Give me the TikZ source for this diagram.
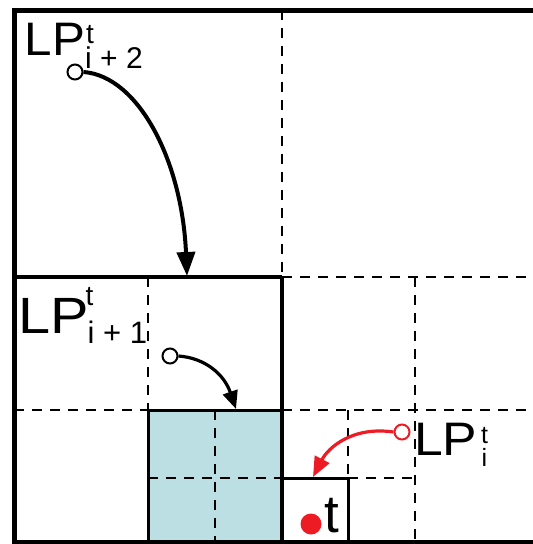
\documentclass[tikz,border=0pt]{standalone}
\usepackage{fontspec}
\setmainfont{Liberation Sans}
\usetikzlibrary{arrows.meta}
\definecolor{cellblue}{RGB}{188,223,227}
\definecolor{lpred}{RGB}{237,28,36}
\tikzset{
  outerline/.style={line width=5pt},
  midline/.style={line width=4pt},
  thinline/.style={line width=3pt},
  dashline/.style={line width=2.6pt, dash pattern=on 10pt off 8pt},
  lpcircle/.style={circle, draw, line width=2pt, fill=white, minimum size=15pt, inner sep=0pt},
  blackarrow/.style={line width=4pt, -{Triangle[length=24pt,width=18pt]}},
  smallarrow/.style={line width=3.2pt, -{Triangle[length=18pt,width=15pt]}},
  redarrow/.style={line width=3.2pt, draw=lpred, -{Triangle[length=20pt,width=16pt]}},
  lbl/.style={inner sep=0pt, anchor=base west},
}
\begin{document}
\begin{tikzpicture}[x=1pt,y=-1pt]
\useasboundingbox (0,0) rectangle (533,544);
% blue cell
\fill[cellblue] (148,410) rectangle (282,542);
% dashed grid
\draw[dashline] (282,10) -- (282,277);
\draw[dashline] (282,277) -- (533,277);
\draw[dashline] (148,277) -- (148,410);
\draw[dashline] (14,410) -- (148,410);
\draw[dashline] (282,410) -- (533,410);
\draw[dashline] (215,410) -- (215,542);
\draw[dashline] (148,478) -- (282,478);
\draw[dashline] (348,478) -- (415,478);
\draw[dashline] (348,410) -- (348,478);
\draw[dashline] (415,277) -- (415,542);
% solid lines
\draw[midline] (14,277) -- (282,277);
\draw[midline] (282,277) -- (282,542);
\draw[thinline] (148,542) -- (148,410) -- (282,410);
\draw[thinline] (282,478) -- (348,478) -- (348,542);
% outer frame
\draw[outerline] (533,10) -- (14,10) -- (14,542) -- (533,542);
% circles
\node[lpcircle] (c2) at (75,72) {};
\node[lpcircle] (c1) at (170,356) {};
\node[lpcircle, draw=lpred] (c0) at (402,432) {};
% arrow targets
\coordinate (t2) at (187,276);
\coordinate (t1) at (236,409);
\coordinate (t0) at (313,477);
\draw[blackarrow] (c2.east) .. controls (138,76) and (182,160) .. (t2);
\draw[smallarrow] (c1.east) .. controls (205,358) and (224,374) .. (t1);
\draw[redarrow] (c0.west) .. controls (352,426) and (328,448) .. (t0);
% labels
\node[lbl, font=\fontsize{47}{47}\selectfont] (lp2) at (24.5,55) {\scalebox{1.05}[1]{LP}};
\node[lbl, font=\fontsize{28}{28}\selectfont] (lp2t) at (86,43) {t};
\node[lbl, font=\fontsize{30}{30}\selectfont] (lp2s) at (85,68.5) {i + 2};
\node[lbl, font=\fontsize{51}{51}\selectfont] (lp1) at (18,333) {\scalebox{1.13}[1]{LP}};
\node[lbl, font=\fontsize{28}{28}\selectfont] (lp1t) at (85.5,305) {t};
\node[lbl, font=\fontsize{31}{31}\selectfont] (lp1s) at (87.5,343) {i + 1};
\node[lbl, font=\fontsize{47}{47}\selectfont] (lp0) at (414,455.5) {\scalebox{1.1}[1]{LP}};
\node[lbl, font=\fontsize{25}{25}\selectfont] (lp0t) at (481,443) {t};
\node[lbl, font=\fontsize{25}{25}\selectfont] (lp0s) at (481.5,466) {i};
% target point
\node[circle, fill=lpred, minimum size=21pt, inner sep=0pt] (dot) at (311,524) {};
\node[lbl, font=\fontsize{53}{53}\selectfont] (tl) at (324.5,532) {t};
\end{tikzpicture}
\end{document}
